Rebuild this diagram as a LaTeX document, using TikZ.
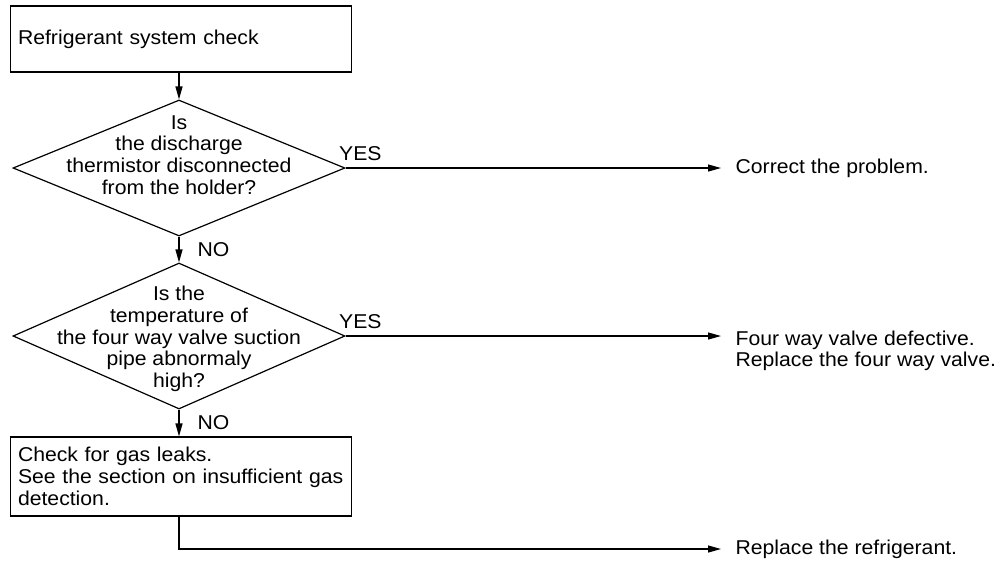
\documentclass[tikz,border=0pt]{standalone}
\usepackage{fontspec}
\setmainfont{Liberation Sans}[FakeStretch=1.06]
\usetikzlibrary{shapes, arrows.meta}

\begin{document}
\begin{tikzpicture}[x=1pt,y=-1pt,line width=1.2pt,
  font=\fontsize{20}{21.8}\selectfont,
  box/.style={rectangle,draw,minimum width=340.5pt,text width=326pt,inner xsep=7.25pt,inner ysep=0pt,align=left},
  ask/.style={diamond,draw,minimum width=332pt,inner sep=0pt},
  flow/.style={-{Triangle[length=13pt,width=7pt]}},
  tag/.style={anchor=base west,inner sep=0pt},
  result/.style={inner sep=0pt,align=left}]

\useasboundingbox (0,0) rectangle (1004,565);

\node[box,minimum height=66pt] (start) at (181,39) {Refrigerant system check};
\node[ask,minimum height=136pt,label={[align=center,yshift=13pt]center:Is\\the discharge\\thermistor disconnected\\from the holder?}] (q1) at (179,168) {};
\node[ask,minimum height=146pt,label={[align=center,yshift=-3pt]center:Is the\\temperature of\\the four way valve suction\\pipe abnormaly\\high?}] (q2) at (179,336) {};
\node[box,minimum height=79pt] (check) at (181,476.5) {Check for gas leaks.\\See the section on insufficient gas\\detection.};

\node[result,anchor=west] (r1) at (735,168.5) {Correct the problem.};
\node[result,anchor=north west] (r2) at (735,330) {Four way valve defective.\\Replace the four way valve.};
\node[result,anchor=west] (r3) at (735,549) {Replace the refrigerant.};

\draw[flow] (q1.north |- start.south) -- (q1.north);
\draw[flow] (q1.south) -- (q2.north) node[tag,pos=1,xshift=18pt,yshift=6pt] {NO};
\draw[flow] (q2.south) -- (q2.south |- check.north) node[tag,pos=1,xshift=18pt,yshift=6.5pt] {NO};
\draw[flow,shorten >=14pt] (q1.east) -- (q1.east -| r1.west) node[tag,pos=0,xshift=-7pt,yshift=8pt] {YES};
\draw[flow,shorten >=14pt] (q2.east) -- (q2.east -| r2.west) node[tag,pos=0,xshift=-7pt,yshift=8pt] {YES};
\draw[flow,shorten >=14pt] (q2.south |- check.south) |- (r3.west);

\end{tikzpicture}
\end{document}
